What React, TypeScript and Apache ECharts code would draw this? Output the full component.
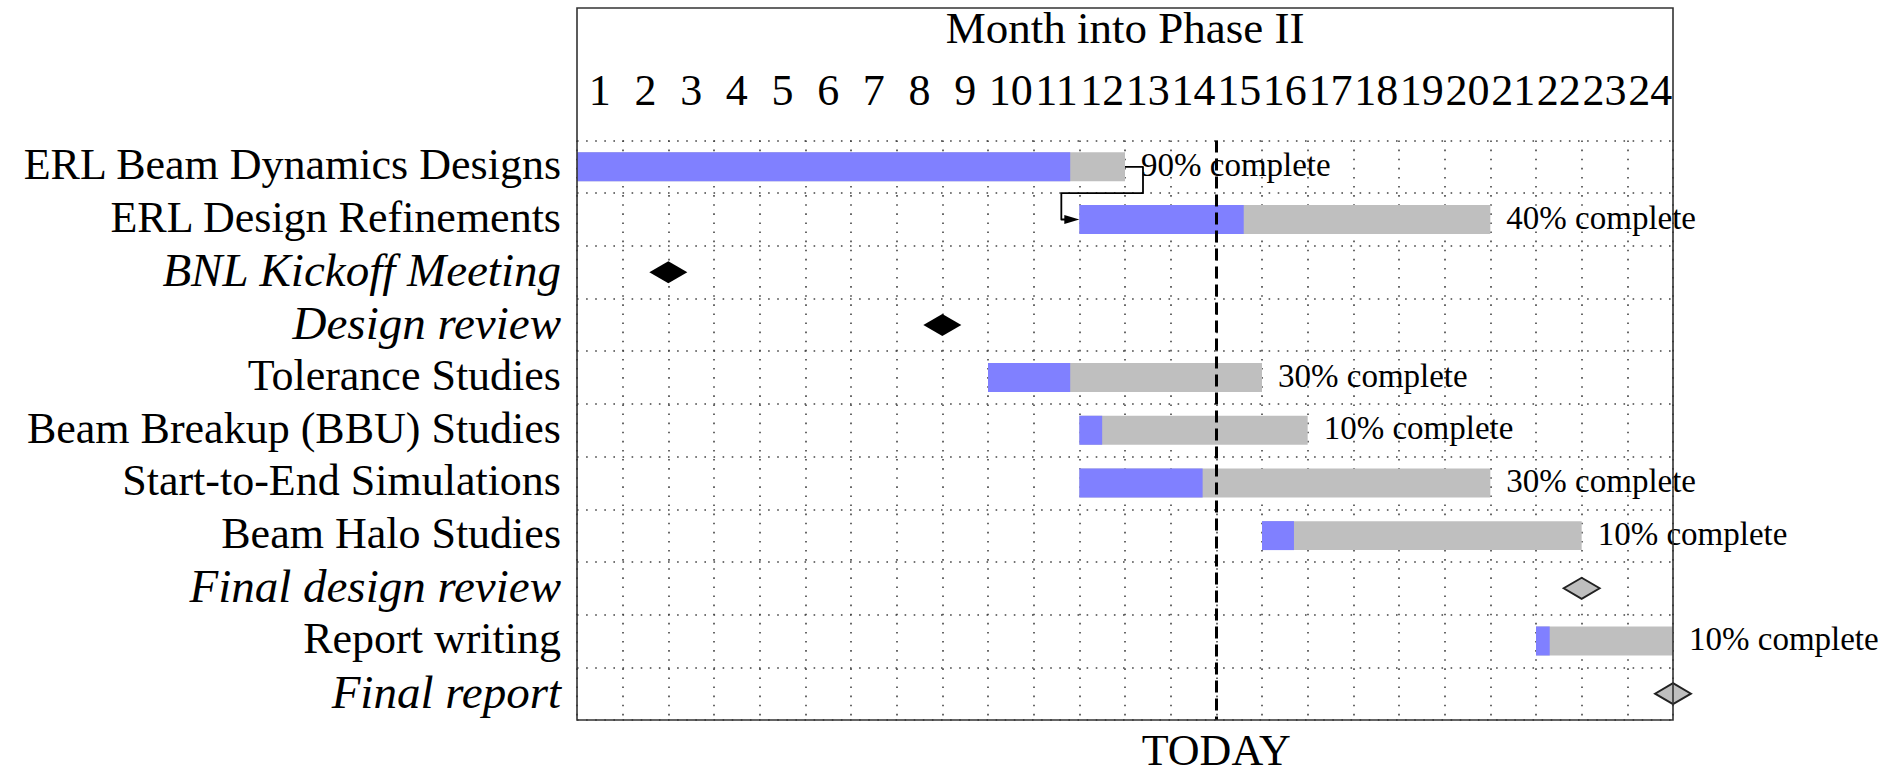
import React, { useEffect, useRef } from "react";
import * as echarts from "echarts";

const FONT = "'Liberation Serif', 'Times New Roman', serif";

// Tick labels (months into Phase II)
const monthLabels = [
  "1", "2", "3", "4", "5", "6", "7", "8", "9", "10", "11", "12",
  "13", "14", "15", "16", "17", "18", "19", "20", "21", "22", "23", "24",
];

// Rows of the chart, top to bottom
const taskNames = [
  "ERL Beam Dynamics Designs",
  "ERL Design Refinements",
  "BNL Kickoff Meeting",
  "Design review",
  "Tolerance Studies",
  "Beam Breakup (BBU) Studies",
  "Start-to-End Simulations",
  "Beam Halo Studies",
  "Final design review",
  "Report writing",
  "Final report",
];

// Bars (in months from the start of Phase II)
const barRows = [0, 1, 4, 5, 6, 7, 9];
const barStart = [0, 11, 9, 11, 11, 15, 21];
const barEnd = [12, 20, 15, 16, 20, 22, 24];
const barProgress = [90, 40, 30, 10, 30, 10, 10];

// Milestones
const milestoneRows = [2, 3, 8, 10];
const milestoneMonth = [2, 8, 22, 24];
const milestoneReached = [true, true, false, false];

// Dependency: bar index -> bar index
const dependencyFrom = [0];
const dependencyTo = [1];

const todayMonth = 14;

const BLUE = "#8080FF";
const GRAY = "#BFBFBF";
const DOT: number[] = [1.6, 7.5];

export default function App() {
  const ref = useRef<HTMLDivElement>(null);

  useEffect(() => {
    if (!ref.current) return;
    const chart = echarts.init(ref.current, undefined, { renderer: "svg" });

    const gridLeft = 577;
    const gridRight = 220;
    const gridTop = 135;
    const gridBottom = 53;
    const W = 1893;
    const H = 773;

    const milestoneSet = new Set(milestoneRows.map((r) => taskNames[r]));

    const barData = barRows.map((r, i) => [barStart[i], barEnd[i], r, barProgress[i]]);
    const depData = dependencyFrom.map((f, i) => {
      const t = dependencyTo[i];
      return [barEnd[f], barRows[f], barStart[t], barRows[t]];
    });
    const doneMs: number[][] = [];
    const pendingMs: number[][] = [];
    milestoneRows.forEach((r, i) => {
      (milestoneReached[i] ? doneMs : pendingMs).push([milestoneMonth[i], r]);
    });

    const option: any = {
      animation: false,
      backgroundColor: "#fff",
      textStyle: { fontFamily: FONT, color: "#000" },
      grid: { left: gridLeft, right: gridRight, top: gridTop, bottom: gridBottom, containLabel: false },
      xAxis: [
        {
          type: "category",
          position: "top",
          data: monthLabels,
          boundaryGap: true,
          axisLine: { show: false },
          axisTick: { show: false },
          axisLabel: {
            interval: 0,
            fontSize: 44,
            fontFamily: FONT,
            color: "#000",
            margin: 50,
            verticalAlign: "middle",
          },
          splitLine: { show: true, interval: 0, lineStyle: { color: "#444", width: 1.6, type: DOT } },
          name: "Month into Phase II",
          nameLocation: "middle",
          nameGap: 113,
          nameTextStyle: { fontSize: 45, fontFamily: FONT, color: "#000", verticalAlign: "middle" },
        },
        {
          type: "value",
          min: 0,
          max: 24,
          interval: 1,
          show: false,
        },
      ],
      yAxis: {
        type: "category",
        data: taskNames,
        inverse: true,
        boundaryGap: true,
        axisLine: { show: false },
        axisTick: { show: false },
        axisLabel: {
          interval: 0,
          margin: 16,
          fontSize: 44,
          fontFamily: FONT,
          color: "#000",
          padding: [0, 0, 4, 0],
          formatter: (v: string) => (milestoneSet.has(v) ? `{it|${v}}` : v),
          rich: {
            it: { fontStyle: "italic", fontSize: 47, fontFamily: FONT, color: "#000" },
          },
        },
        splitLine: { show: true, interval: 0, lineStyle: { color: "#444", width: 1.6, type: DOT } },
      },
      graphic: [
        {
          type: "rect",
          silent: true,
          z: 100,
          shape: { x: gridLeft, y: 8, width: W - gridLeft - gridRight, height: H - gridBottom - 8 },
          style: { fill: "none", stroke: "#333", lineWidth: 1.6 },
        },
      ],
      series: [
        {
          type: "scatter",
          name: "today",
          xAxisIndex: 1,
          data: [],
          z: 1,
          markLine: {
            silent: true,
            symbol: ["none", "none"],
            lineStyle: { color: "#000", width: 3, type: [12, 6] },
            label: {
              show: true,
              position: "end",
              formatter: "TODAY",
              fontSize: 44,
              lineHeight: 36,
              fontFamily: FONT,
              color: "#000",
              distance: 12,
            },
            data: [{ xAxis: todayMonth }],
          },
        },
        {
          type: "custom",
          name: "tasks",
          xAxisIndex: 1,
          clip: false,
          z: 3,
          data: barData,
          renderItem: (params: any, api: any) => {
            const s = api.value(0);
            const e = api.value(1);
            const row = api.value(2);
            const pct = api.value(3);
            const p0 = api.coord([s, row]);
            const p1 = api.coord([e, row]);
            const pm = api.coord([s + ((e - s) * pct) / 100, row]);
            const h = api.size([0, 1])[1] * 0.55;
            return {
              type: "group",
              children: [
                {
                  type: "rect",
                  shape: { x: p0[0], y: p0[1] - h / 2, width: p1[0] - p0[0], height: h },
                  style: { fill: GRAY },
                },
                {
                  type: "rect",
                  shape: { x: p0[0], y: p0[1] - h / 2, width: pm[0] - p0[0], height: h },
                  style: { fill: BLUE },
                },
                {
                  type: "text",
                  x: p1[0] + 16,
                  y: p1[1] - 2,
                  style: {
                    text: `${pct}% complete`,
                    fontSize: 33,
                    fontFamily: FONT,
                    fill: "#000",
                    align: "left",
                    verticalAlign: "middle",
                  },
                },
              ],
            };
          },
        },
        {
          type: "custom",
          name: "dependency",
          xAxisIndex: 1,
          clip: false,
          z: 4,
          data: depData,
          renderItem: (params: any, api: any) => {
            const a = api.coord([api.value(0), api.value(1)]);
            const b = api.coord([api.value(2), api.value(3)]);
            const band = api.size([0, 1])[1];
            const xr = a[0] + 18;
            const ym = a[1] + band / 2;
            const xl = b[0] - 18;
            return {
              type: "group",
              children: [
                {
                  type: "polyline",
                  shape: {
                    points: [
                      [a[0], a[1]],
                      [xr, a[1]],
                      [xr, ym],
                      [xl, ym],
                      [xl, b[1]],
                      [b[0] - 12, b[1]],
                    ],
                  },
                  style: { stroke: "#000", lineWidth: 1.8, fill: "none", lineJoin: "round" },
                },
                {
                  type: "polygon",
                  shape: {
                    points: [
                      [b[0] - 15, b[1] - 4.5],
                      [b[0], b[1]],
                      [b[0] - 15, b[1] + 4.5],
                    ],
                  },
                  style: { fill: "#000" },
                },
              ],
            };
          },
        },
        {
          type: "scatter",
          name: "milestones reached",
          xAxisIndex: 1,
          clip: false,
          z: 5,
          symbol: "diamond",
          symbolSize: [38, 22],
          itemStyle: { color: "#000", opacity: 1 },
          data: doneMs,
        },
        {
          type: "scatter",
          name: "milestones pending",
          xAxisIndex: 1,
          clip: false,
          z: 5,
          symbol: "diamond",
          symbolSize: [36, 21],
          itemStyle: { color: GRAY, borderColor: "#222", borderWidth: 2, opacity: 1 },
          data: pendingMs,
        },
      ],
    };

    chart.setOption(option);
    return () => chart.dispose();
  }, []);

  return (
    <div
      ref={ref}
      style={{ position: "fixed", left: 0, top: 0, width: 1893, height: 773, background: "#fff" }}
    />
  );
}
